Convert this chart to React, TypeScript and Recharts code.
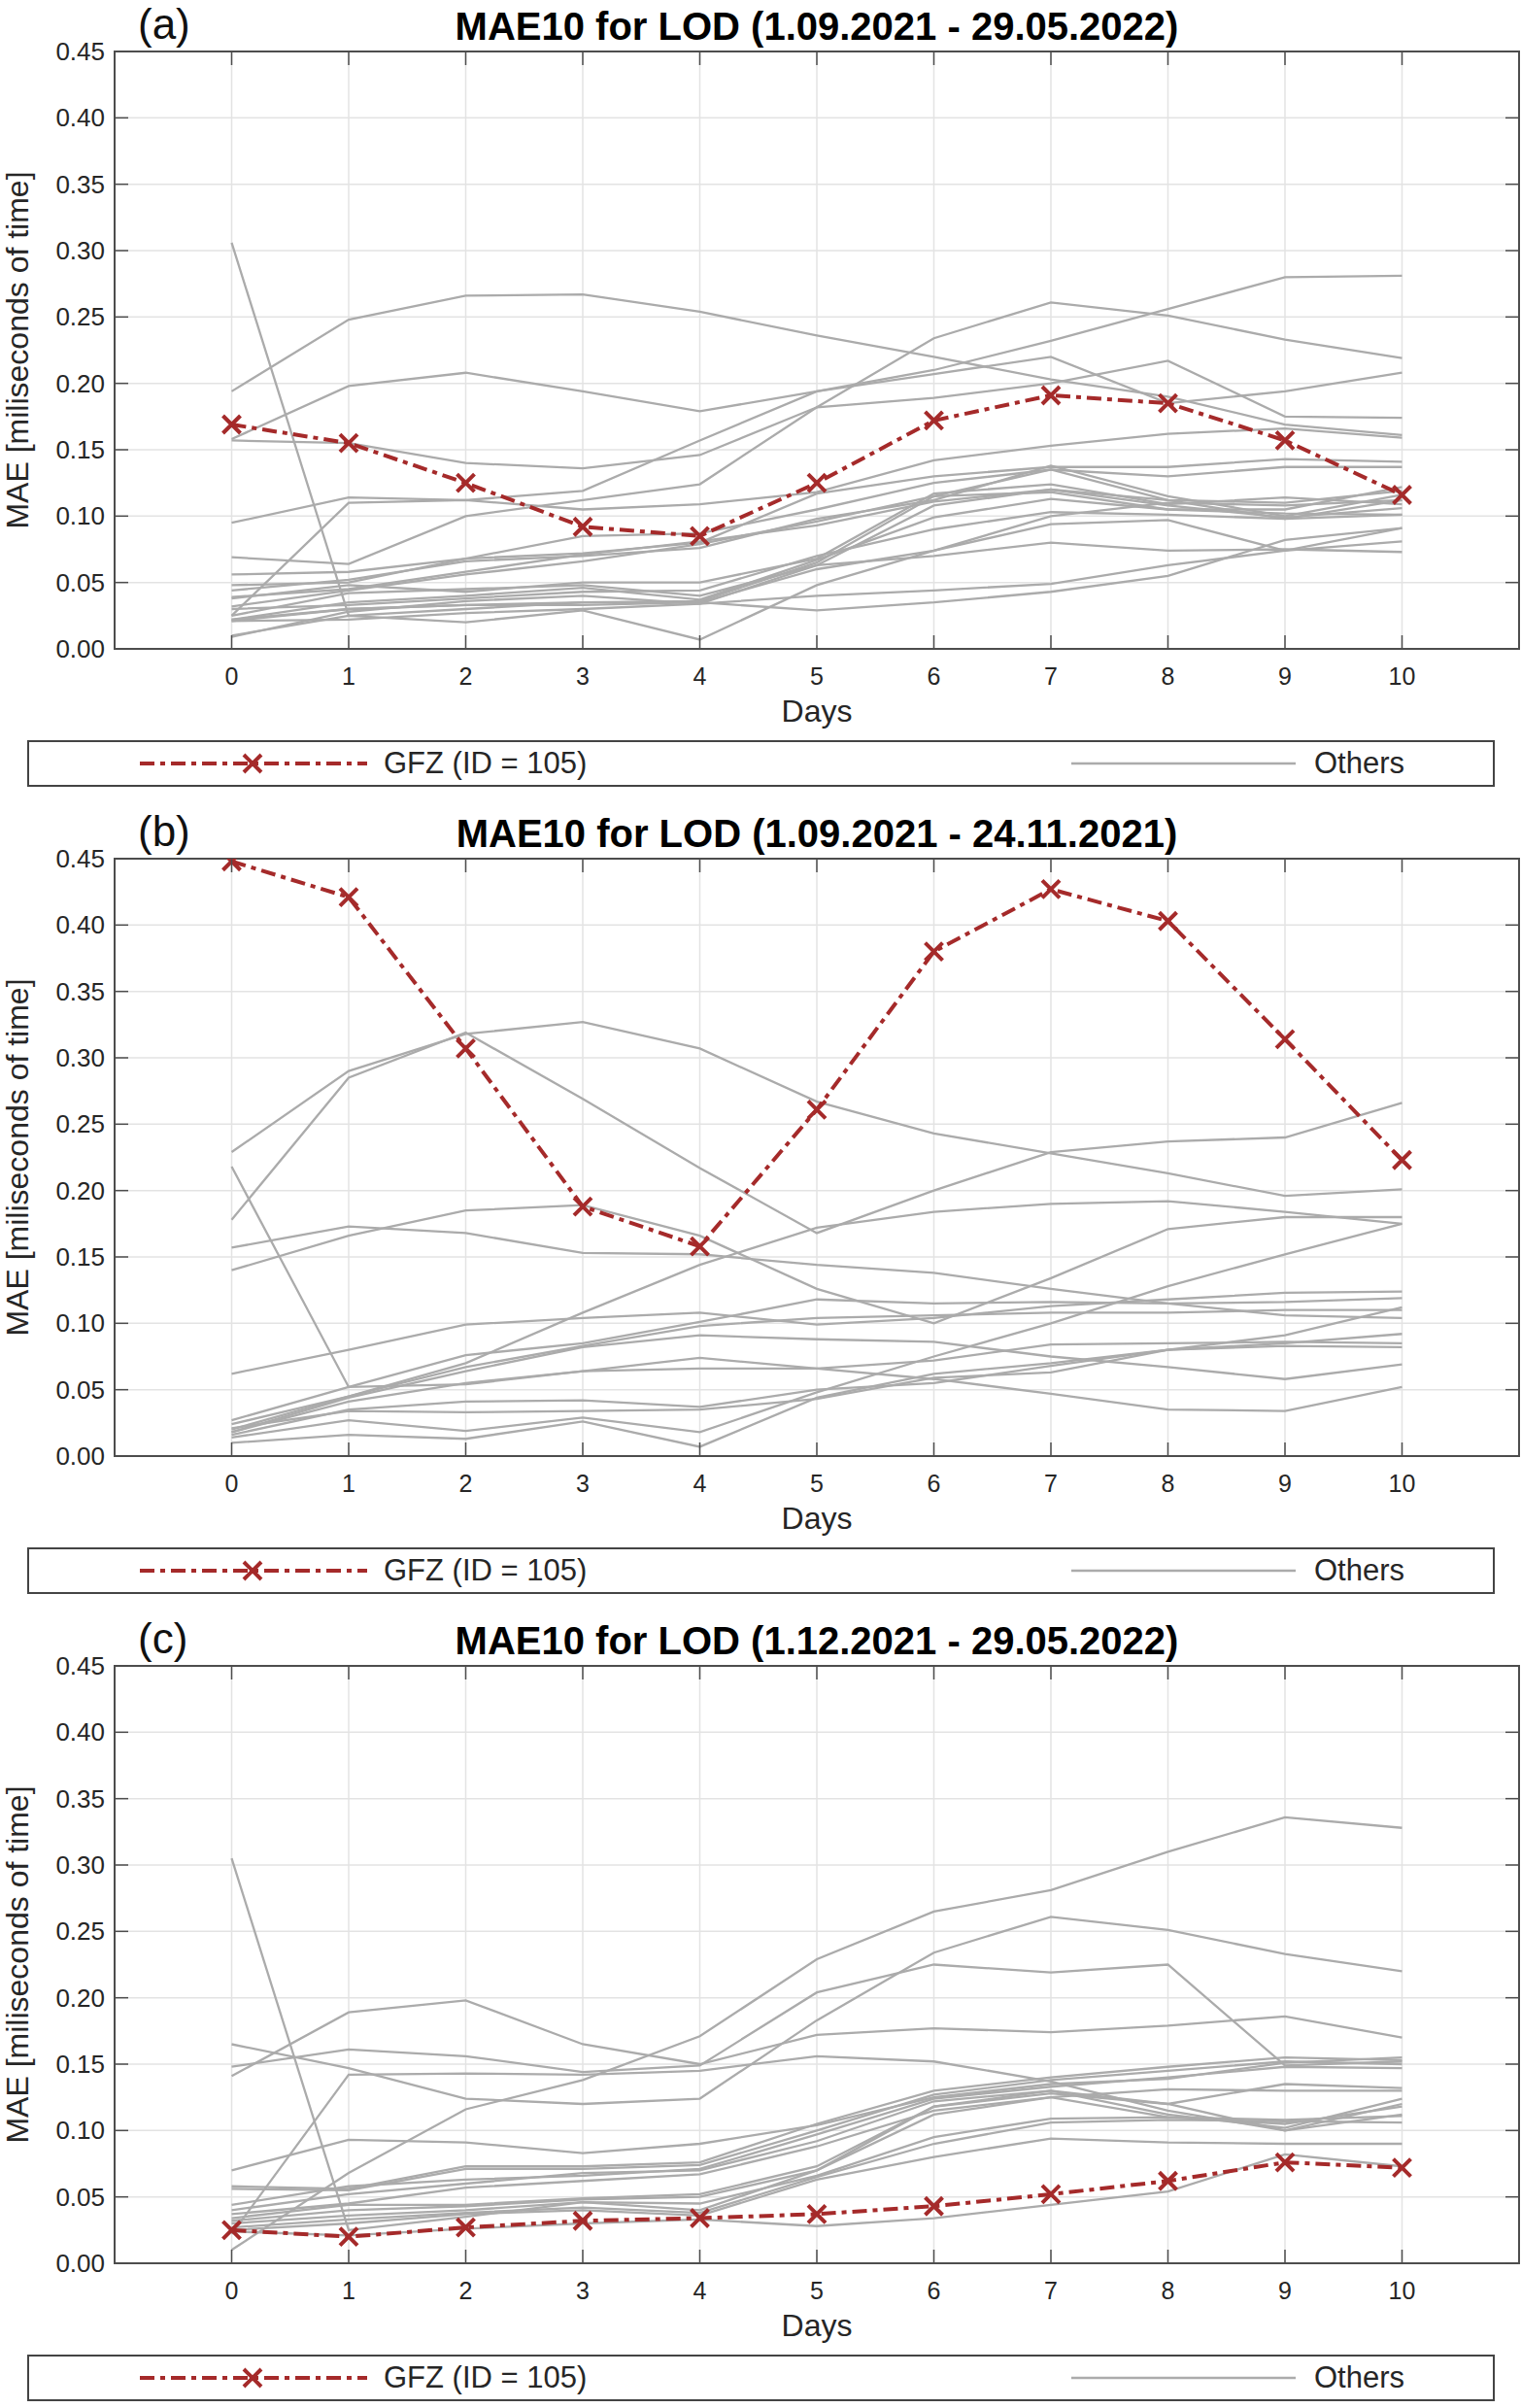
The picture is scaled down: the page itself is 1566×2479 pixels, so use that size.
import React from "react";
import { LineChart, Line, XAxis, YAxis, CartesianGrid, ReferenceArea } from "recharts";

const days = [0, 1, 2, 3, 4, 5, 6, 7, 8, 9, 10];
const yTicks = [0, 0.05, 0.1, 0.15, 0.2, 0.25, 0.3, 0.35, 0.4, 0.45];

// GFZ (ID = 105) per panel
const gfzA = [0.169, 0.155, 0.125, 0.092, 0.085, 0.125, 0.172, 0.191, 0.185, 0.157, 0.116];
const gfzB = [0.448, 0.421, 0.307, 0.188, 0.158, 0.261, 0.38, 0.427, 0.403, 0.314, 0.223];
const gfzC = [0.025, 0.02, 0.027, 0.032, 0.034, 0.037, 0.043, 0.052, 0.062, 0.076, 0.072];

// other centres, panel (a)
const othersA = [
  [0.306, 0.025, 0.03, 0.035, 0.036, 0.065, 0.115, 0.135, 0.112, 0.098, 0.112],
  [0.194, 0.248, 0.266, 0.267, 0.254, 0.236, 0.22, 0.203, 0.19, 0.169, 0.161],
  [0.158, 0.198, 0.208, 0.194, 0.179, 0.194, 0.207, 0.22, 0.185, 0.194, 0.208],
  [0.069, 0.064, 0.1, 0.112, 0.124, 0.182, 0.234, 0.261, 0.251, 0.233, 0.219],
  [0.095, 0.114, 0.112, 0.119, 0.157, 0.194, 0.21, 0.232, 0.256, 0.28, 0.281],
  [0.157, 0.155, 0.14, 0.136, 0.146, 0.182, 0.189, 0.2, 0.217, 0.175, 0.174],
  [0.025, 0.11, 0.112, 0.105, 0.109, 0.118, 0.142, 0.153, 0.162, 0.166, 0.159],
  [0.048, 0.05, 0.068, 0.072, 0.08, 0.117, 0.13, 0.137, 0.137, 0.143, 0.141],
  [0.056, 0.058, 0.068, 0.085, 0.087, 0.105, 0.125, 0.135, 0.13, 0.137, 0.137],
  [0.044, 0.052, 0.066, 0.07, 0.076, 0.098, 0.112, 0.138, 0.115, 0.1, 0.116],
  [0.039, 0.045, 0.058, 0.071, 0.081, 0.093, 0.111, 0.12, 0.112, 0.11, 0.119],
  [0.032, 0.044, 0.056, 0.066, 0.079, 0.096, 0.115, 0.118, 0.105, 0.105, 0.122],
  [0.038, 0.048, 0.043, 0.05, 0.05, 0.068, 0.117, 0.124, 0.109, 0.114, 0.109],
  [0.025, 0.042, 0.045, 0.048, 0.04, 0.063, 0.108, 0.12, 0.108, 0.099, 0.106],
  [0.022, 0.035, 0.04, 0.046, 0.037, 0.067, 0.099, 0.113, 0.105, 0.102, 0.101],
  [0.03, 0.033, 0.038, 0.043, 0.044, 0.07, 0.09, 0.103, 0.101, 0.098, 0.101],
  [0.021, 0.03, 0.033, 0.035, 0.035, 0.06, 0.074, 0.094, 0.097, 0.074, 0.091],
  [0.021, 0.022, 0.027, 0.03, 0.034, 0.063, 0.07, 0.08, 0.074, 0.075, 0.073],
  [0.01, 0.025, 0.02, 0.029, 0.007, 0.048, 0.074, 0.1, 0.11, 0.108, 0.112],
  [0.022, 0.03, 0.033, 0.033, 0.035, 0.029, 0.035, 0.043, 0.055, 0.082, 0.091],
  [0.009, 0.028, 0.036, 0.04, 0.034, 0.04, 0.044, 0.049, 0.063, 0.074, 0.081],
];

// panel (b)
const othersB = [
  [0.229, 0.29, 0.318, 0.327, 0.307, 0.267, 0.243, 0.228, 0.213, 0.196, 0.201],
  [0.178, 0.285, 0.319, 0.269, 0.217, 0.168, 0.2, 0.229, 0.237, 0.24, 0.266],
  [0.218, 0.052, 0.054, 0.064, 0.066, 0.066, 0.072, 0.084, 0.085, 0.086, 0.085],
  [0.157, 0.173, 0.168, 0.153, 0.152, 0.144, 0.138, 0.126, 0.115, 0.106, 0.104],
  [0.14, 0.166, 0.185, 0.189, 0.166, 0.126, 0.1, 0.134, 0.171, 0.18, 0.18],
  [0.02, 0.045, 0.07, 0.108, 0.144, 0.172, 0.184, 0.19, 0.192, 0.184, 0.175],
  [0.062, 0.08, 0.099, 0.104, 0.108, 0.099, 0.104, 0.113, 0.118, 0.123, 0.124],
  [0.027, 0.052, 0.076, 0.085, 0.101, 0.118, 0.115, 0.116, 0.115, 0.116, 0.119],
  [0.024, 0.045, 0.067, 0.083, 0.098, 0.104, 0.106, 0.108, 0.108, 0.11, 0.11],
  [0.018, 0.044, 0.064, 0.082, 0.091, 0.088, 0.086, 0.075, 0.067, 0.058, 0.069],
  [0.018, 0.041, 0.055, 0.064, 0.074, 0.066, 0.058, 0.047, 0.035, 0.034, 0.052],
  [0.014, 0.027, 0.019, 0.029, 0.018, 0.048, 0.075, 0.1, 0.128, 0.152, 0.175],
  [0.01, 0.016, 0.013, 0.026, 0.007, 0.044, 0.062, 0.07, 0.08, 0.091, 0.112],
  [0.021, 0.034, 0.033, 0.034, 0.035, 0.043, 0.059, 0.063, 0.08, 0.083, 0.082],
  [0.016, 0.035, 0.041, 0.042, 0.037, 0.05, 0.055, 0.068, 0.08, 0.085, 0.092],
];

// panel (c)
const othersC = [
  [0.305, 0.025, 0.035, 0.046, 0.04, 0.07, 0.118, 0.128, 0.12, 0.1, 0.112],
  [0.01, 0.068, 0.116, 0.138, 0.171, 0.229, 0.265, 0.281, 0.31, 0.336, 0.328],
  [0.165, 0.147, 0.124, 0.12, 0.124, 0.183, 0.234, 0.261, 0.251, 0.233, 0.22],
  [0.148, 0.161, 0.156, 0.144, 0.149, 0.204, 0.225, 0.219, 0.225, 0.149, 0.152],
  [0.141, 0.189, 0.198, 0.165, 0.15, 0.172, 0.177, 0.174, 0.179, 0.186, 0.17],
  [0.022, 0.142, 0.143, 0.142, 0.145, 0.156, 0.152, 0.137, 0.115, 0.1, 0.12],
  [0.07, 0.093, 0.091, 0.083, 0.09, 0.104, 0.125, 0.135, 0.139, 0.151, 0.155],
  [0.058, 0.056, 0.073, 0.073, 0.076, 0.105, 0.13, 0.14, 0.148, 0.155, 0.153],
  [0.056, 0.055, 0.071, 0.071, 0.074, 0.1, 0.127, 0.138, 0.145, 0.152, 0.15],
  [0.044, 0.058, 0.063, 0.066, 0.071, 0.097, 0.124, 0.133, 0.14, 0.148, 0.147],
  [0.04, 0.052, 0.06, 0.068, 0.07, 0.092, 0.122, 0.13, 0.12, 0.135, 0.132],
  [0.037, 0.045, 0.057, 0.062, 0.067, 0.088, 0.115, 0.125, 0.131, 0.13, 0.13],
  [0.034, 0.044, 0.044, 0.049, 0.052, 0.073, 0.118, 0.13, 0.112, 0.102, 0.124],
  [0.032, 0.04, 0.043, 0.048, 0.05, 0.07, 0.112, 0.125, 0.11, 0.105, 0.118],
  [0.03, 0.036, 0.04, 0.046, 0.045, 0.066, 0.095, 0.109, 0.11, 0.108, 0.111],
  [0.027, 0.033, 0.038, 0.042, 0.038, 0.065, 0.09, 0.106, 0.108, 0.107, 0.106],
  [0.025, 0.03, 0.037, 0.04, 0.036, 0.063, 0.08, 0.094, 0.091, 0.09, 0.09],
  [0.024, 0.021, 0.026, 0.03, 0.033, 0.028, 0.034, 0.044, 0.054, 0.082, 0.073],
];

const W = 1566;
const PANEL_H = 831;
const PLOT_TOP = 53;
const PLOT_LEFT = 118;
const PLOT_RIGHT = 1564;
const X_AXIS_H = 80;
const M_BOTTOM = 83;
const PLOT_BOTTOM = PANEL_H - M_BOTTOM - X_AXIS_H; // 668
const TICK_LEN = 14;

const FONT = '"Liberation Sans", Arial, Helvetica, sans-serif';
const AXIS = "#4d4d4d";
const TXT = "#262626";
const GRAY = "#ababab";
const RED = "#a52a2a";
const DASH = "15 6 5 6";

function buildRows(gfz: number[], others: number[][]) {
  return days.map((d, i) => {
    const row: Record<string, number> = { day: d, gfz: gfz[i] };
    others.forEach((s, k) => {
      row[`o${k}`] = s[i];
    });
    return row;
  });
}

const XTick = (props: any) => {
  const { x, payload } = props;
  return (
    <g>
      <line x1={x} x2={x} y1={PLOT_BOTTOM} y2={PLOT_BOTTOM - TICK_LEN} stroke={AXIS} strokeWidth={1.5} />
      <line x1={x} x2={x} y1={PLOT_TOP} y2={PLOT_TOP + TICK_LEN} stroke={AXIS} strokeWidth={1.5} />
      <text x={x} y={PLOT_BOTTOM + 37} textAnchor="middle" fontSize={25} fill={TXT} fontFamily={FONT}>
        {payload.value}
      </text>
    </g>
  );
};

const YTick = (props: any) => {
  const { y, payload } = props;
  return (
    <g>
      <line x1={PLOT_LEFT} x2={PLOT_LEFT + TICK_LEN} y1={y} y2={y} stroke={AXIS} strokeWidth={1.5} />
      <line x1={PLOT_RIGHT - TICK_LEN} x2={PLOT_RIGHT} y1={y} y2={y} stroke={AXIS} strokeWidth={1.5} />
      <text x={PLOT_LEFT - 10} y={y} dy="0.35em" textAnchor="end" fontSize={26} fill={TXT} fontFamily={FONT}>
        {Number(payload.value).toFixed(2)}
      </text>
    </g>
  );
};

const Cross = (props: any) => {
  const { cx, cy, index } = props;
  if (cx == null || cy == null) return <g key={index} />;
  const s = 9;
  return (
    <path
      key={index}
      d={`M${cx - s},${cy - s}L${cx + s},${cy + s}M${cx - s},${cy + s}L${cx + s},${cy - s}`}
      stroke={RED}
      strokeWidth={4}
      fill="none"
    />
  );
};

function LegendBox() {
  return (
    <div
      style={{
        position: "absolute",
        left: 28,
        top: 762,
        width: 1511,
        height: 48,
        border: "2px solid #444",
        boxSizing: "border-box",
        background: "#fff",
      }}
    >
      <svg width={1507} height={44} style={{ position: "absolute", left: 0, top: 0 }}>
        <line x1={114} x2={348} y1={22} y2={22} stroke={RED} strokeWidth={4} strokeDasharray={DASH} />
        <path d="M221,13L239,31M221,31L239,13" stroke={RED} strokeWidth={4} fill="none" />
        <line x1={1073} x2={1304} y1={22} y2={22} stroke={GRAY} strokeWidth={2.5} />
      </svg>
      <div style={{ position: "absolute", left: 365, top: 4, fontSize: 31, lineHeight: "36px", color: TXT }}>
        GFZ (ID = 105)
      </div>
      <div style={{ position: "absolute", left: 1323, top: 4, fontSize: 31, lineHeight: "36px", color: TXT }}>
        Others
      </div>
    </div>
  );
}

function Panel({ letter, title, gfz, others }: { letter: string; title: string; gfz: number[]; others: number[][] }) {
  const rows = buildRows(gfz, others);
  return (
    <div style={{ position: "relative", width: W, height: PANEL_H }}>
      <div style={{ position: "absolute", left: 142, top: 2, fontSize: 44, lineHeight: "46px", color: "#111" }}>
        {letter}
      </div>
      <div
        style={{
          position: "absolute",
          left: PLOT_LEFT,
          width: PLOT_RIGHT - PLOT_LEFT,
          top: 7,
          textAlign: "center",
          fontSize: 40,
          lineHeight: "40px",
          fontWeight: "bold",
          color: "#000",
        }}
      >
        {title}
      </div>
      <div style={{ position: "absolute", left: 0, top: 0 }}>
        <LineChart
          width={W}
          height={PANEL_H}
          data={rows}
          margin={{ top: PLOT_TOP, right: W - PLOT_RIGHT, bottom: M_BOTTOM, left: 0 }}
        >
          <CartesianGrid stroke="#e3e3e3" strokeWidth={1.5} />
          <XAxis
            type="number"
            dataKey="day"
            domain={[-1, 11]}
            ticks={days}
            interval={0}
            allowDataOverflow
            height={X_AXIS_H}
            axisLine={false}
            tickLine={false}
            tick={(p: any) => <XTick {...p} />}
            label={{ value: "Days", position: "insideBottom", offset: 5, fontSize: 32, fill: TXT }}
          />
          <YAxis
            type="number"
            domain={[0, 0.45]}
            ticks={yTicks}
            interval={0}
            allowDataOverflow
            width={PLOT_LEFT}
            axisLine={false}
            tickLine={false}
            tick={(p: any) => <YTick {...p} />}
            label={{
              value: "MAE [miliseconds of time]",
              angle: -90,
              position: "insideLeft",
              offset: 18,
              fontSize: 32,
              fill: TXT,
              style: { textAnchor: "middle" },
            }}
          />
          {others.map((_, k) => (
            <Line
              key={k}
              type="linear"
              dataKey={`o${k}`}
              stroke={GRAY}
              strokeWidth={2.3}
              dot={false}
              activeDot={false}
              isAnimationActive={false}
            />
          ))}
          <Line
            type="linear"
            dataKey="gfz"
            stroke={RED}
            strokeWidth={4}
            strokeDasharray={DASH}
            dot={(p: any) => <Cross {...p} />}
            activeDot={false}
            isAnimationActive={false}
          />
          <ReferenceArea x1={-1} x2={11} y1={0} y2={0.45} fill="none" stroke={AXIS} strokeWidth={2} ifOverflow="visible" />
        </LineChart>
      </div>
      <LegendBox />
    </div>
  );
}

export default function App() {
  return (
    <div
      style={{
        position: "absolute",
        left: 0,
        top: 0,
        width: W,
        height: 2479,
        overflow: "hidden",
        background: "#fff",
        fontFamily: FONT,
      }}
    >
      <Panel letter="(a)" title="MAE10 for LOD (1.09.2021 - 29.05.2022)" gfz={gfzA} others={othersA} />
      <Panel letter="(b)" title="MAE10 for LOD (1.09.2021 - 24.11.2021)" gfz={gfzB} others={othersB} />
      <Panel letter="(c)" title="MAE10 for LOD (1.12.2021 - 29.05.2022)" gfz={gfzC} others={othersC} />
    </div>
  );
}
